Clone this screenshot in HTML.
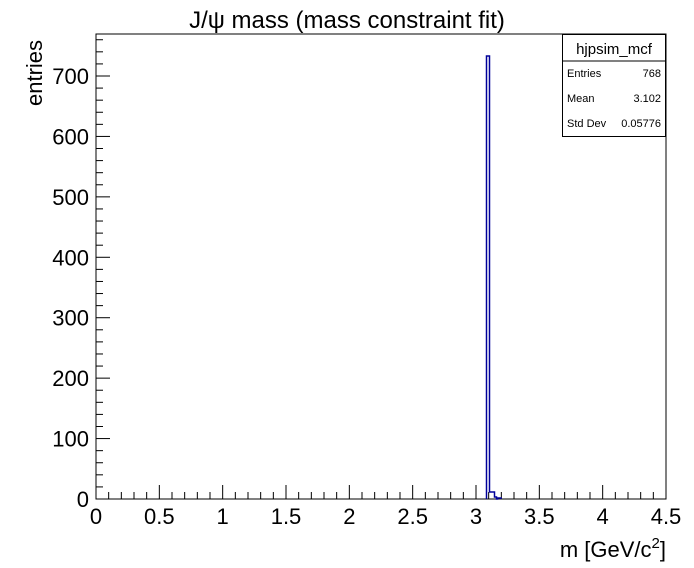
<!DOCTYPE html>
<html><head><style>
body{margin:0;background:#fff;}
svg{display:block;font-family:"Liberation Sans",sans-serif;}
</style></head><body>
<svg width="694" height="568" viewBox="0 0 694 568">
<rect width="694" height="568" fill="#fff"/>
<text x="347" y="28" font-size="24" text-anchor="middle">J/ψ mass (mass constraint fit)</text>
<rect x="96" y="34" width="570" height="465" fill="none" stroke="#000" stroke-width="1"/>
<g stroke="#000" stroke-width="1" id="xt"></g>
<g stroke="#000" stroke-width="1" id="yt"></g>
<path d="M486.5,499 V56 H489.5 V492 H494.5 V497 H496.5 V499 H497.5 V498 H501 V499" fill="none" stroke="#000099" stroke-width="1.5"/>
<g font-size="22" text-anchor="middle" id="xl"></g>
<g font-size="22" text-anchor="end" id="yl"></g>
<text x="666" y="557" font-size="22" text-anchor="end">m [GeV/c<tspan font-size="15" dy="-9">2</tspan><tspan dy="9">]</tspan></text>
<text transform="translate(42,106) rotate(-90)" font-size="22">entries</text>
<rect x="562.5" y="34.5" width="103" height="102" fill="#fff" stroke="#000"/>
<line x1="562.5" y1="61" x2="665.5" y2="61" stroke="#000"/>
<text x="614" y="54" font-size="15" text-anchor="middle">hjpsim_mcf</text>
<g font-size="11"><text x="567" y="77">Entries</text><text x="661" y="77" text-anchor="end">768</text>
<text x="567" y="102">Mean</text><text x="661" y="102" text-anchor="end">3.102</text>
<text x="567" y="127">Std Dev</text><text x="661" y="127" text-anchor="end">0.05776</text></g>
</svg>
<script>
var ns="http://www.w3.org/2000/svg";
function el(p,t,a,txt){var e=document.createElementNS(ns,t);for(var k in a)e.setAttribute(k,a[k]);if(txt!==undefined)e.textContent=txt;document.getElementById(p).appendChild(e);}
for(var i=0;i<=45;i++){var x=96+i*570/45;var L=(i%5==0)?14:7;el("xt","line",{x1:x,x2:x,y1:499,y2:499-L});}
for(var i=0;i<=9;i++){var x=96+i*570/4.5*0.5;el("xl","text",{x:x,y:524},(i*0.5).toString());}
var s=423/700;
for(var v=0;v<=760;v+=20){var y=499-v*s;var L=(v%100==0)?14:7;el("yt","line",{x1:96,x2:96+L,y1:y,y2:y});}
for(var v=0;v<=700;v+=100){el("yl","text",{x:89,y:499-v*s+8},v.toString());}
</script>
</body></html>
